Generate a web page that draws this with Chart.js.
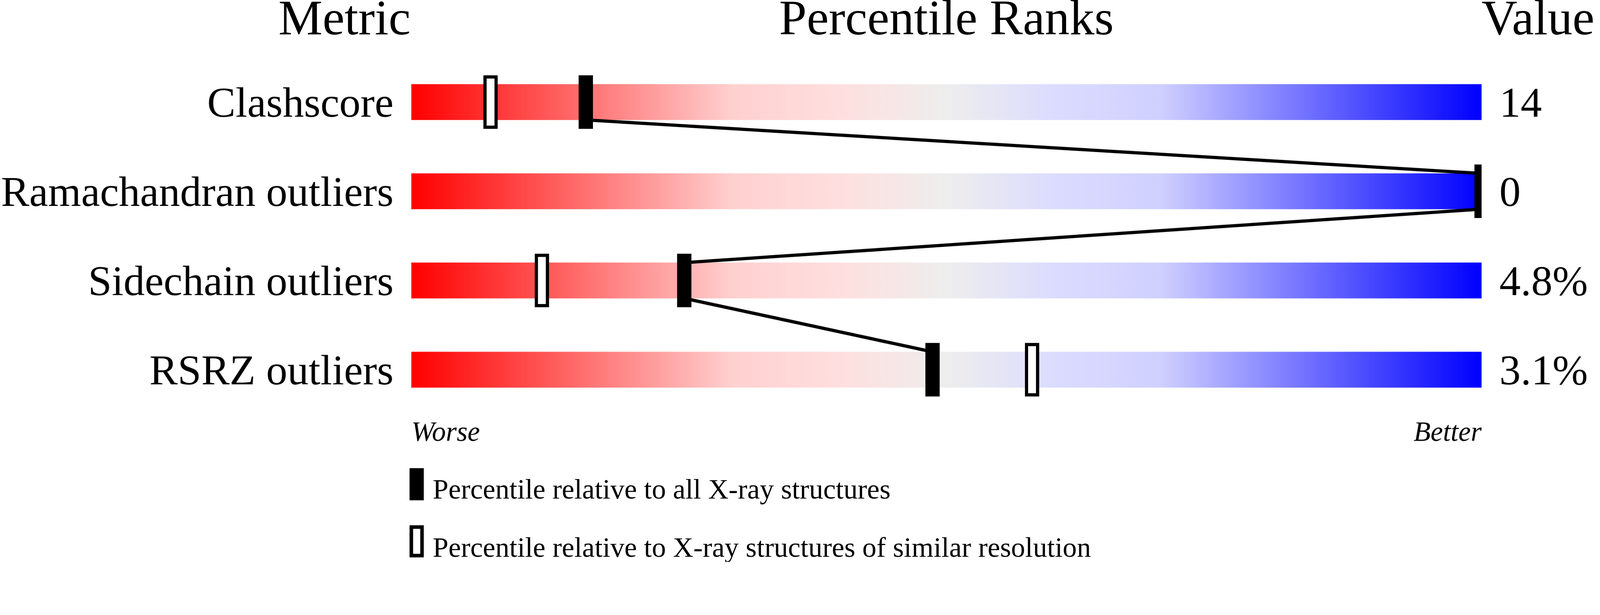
<!DOCTYPE html>
<html>
<head>
<meta charset="utf-8">
<title>Percentile Ranks</title>
<script src="https://cdn.jsdelivr.net/npm/chart.js@4.4.1/dist/chart.umd.min.js"></script>
<style>
  html, body { margin:0; padding:0; background:#fff; overflow:hidden; }
  #wrap { position:absolute; left:0; top:0; width:4485px; height:1574px; overflow:hidden; transform-origin:0 0; }
  #slider { position:absolute; left:0; top:0; width:4485px; height:1574px; }
  .txt { position:absolute; font-family:"Liberation Serif","Times New Roman",serif; color:#000; line-height:1; white-space:nowrap; }
  .key { position:absolute; box-sizing:border-box; width:40px; height:90px; background:#000; }
  .key.open { background:#fff; border:10px solid #000; }
</style>
</head>
<body>
<div id="wrap"><canvas id="slider" width="4485" height="1574"></canvas></div>
<script>
// Validation slider: percentile ranks per metric
const metrics = ['Clashscore', 'Ramachandran outliers', 'Sidechain outliers', 'RSRZ outliers'];
const values = ['14', '0', '4.8%', '3.1%'];
const pctAll = [16.3, 100, 25.5, 48.7];      // relative to all X-ray structures
const pctSimilar = [7.4, 100, 12.2, 58.0];   // relative to similar resolution
const ends = ['Worse', 'Better'];
const headers = ['Metric', 'Percentile Ranks', 'Value'];
const legendLabels = ['Percentile relative to all X-ray structures', 'Percentile relative to X-ray structures of similar resolution'];

const W = 4485, H = 1574;
const SERIF = "'Liberation Serif', 'Times New Roman', serif";
const AREA = { left:1153, right:4153, top:36, bottom:1161 };
const HALF = 0.2; // half bar thickness, in rows (50px of 250px)

// fit the fixed-size drawing to whatever css viewport we get
const wrap = document.getElementById('wrap');
const fit = Math.min(window.innerWidth / W, window.innerHeight / H);
wrap.style.transform = 'scale(' + fit + ')';

function markerImage(w, h, border){
  const c = document.createElement('canvas'); c.width = w; c.height = h;
  const g = c.getContext('2d');
  g.fillStyle = '#000'; g.fillRect(0, 0, w, h);
  if (border){ g.fillStyle = '#fff'; g.fillRect(border, border, w - 2*border, h - 2*border); }
  return c;
}
const solidMark = markerImage(40, 150, 0);
const openMark = markerImage(40, 150, 9);

function sliderFill(ctx){
  const chart = ctx.chart;
  if (!chart.chartArea) return '#eeeeee';
  const x = chart.scales.x;
  const g = chart.ctx.createLinearGradient(x.getPixelForValue(0), 0, x.getPixelForValue(100), 0);
  g.addColorStop(0, '#ff0000');
  g.addColorStop(0.3, '#ffd0d0');
  g.addColorStop(0.4, '#ffdfdf');
  g.addColorStop(0.5, '#eeeeee');
  g.addColorStop(0.6, '#dcdcff');
  g.addColorStop(0.7, '#d0d0ff');
  g.addColorStop(1, '#0000ff');
  return g;
}

// connector runs from the bottom of one marker to the top of the next
const connector = [];
pctAll.forEach((p, i)=>{
  if (i > 0) connector.push({ x:p, y:i - HALF });
  if (i < pctAll.length - 1) connector.push({ x:p, y:i + HALF });
});

const noGrid = { display:false, drawTicks:false };
// pin each axis box to its size and drop the label overflow padding
function pin(size){
  return (s)=>{
    if (s.isHorizontal()) s.height = size; else s.width = size;
    s.paddingTop = s.paddingBottom = s.paddingLeft = s.paddingRight = 0;
  };
}

new Chart(document.getElementById('slider'), {
  type: 'bar',
  data: {
    datasets: [
      { label:'range', data: metrics.map((m,i)=> ({ x:[0,100], y:i })), backgroundColor: sliderFill,
        barThickness: 100, borderWidth: 0, order: 5 },
      { type:'scatter', label:'link', data: connector, showLine:true, borderColor:'#000', borderWidth:9,
        borderJoinStyle:'bevel', pointRadius:0, order: 4 },
      { type:'scatter', label:'similar', data: pctSimilar.map((p,i)=> ({ x:p, y:i })), pointStyle: openMark, order: 3 },
      { type:'scatter', label:'all', data: pctAll.map((p,i)=> ({ x:p, y:i })), pointStyle: solidMark, order: 2 }
    ]
  },
  options: {
    indexAxis: 'y',
    responsive: false,
    animation: false,
    layout: { padding: { top: AREA.top, left:0, right:0, bottom:0 } },
    plugins: { legend:{ display:false }, tooltip:{ enabled:false } },
    scales: {
      x: {
        type:'linear', min:0, max:100, position:'bottom', offset:false, grid:noGrid, border:{ display:false },
        afterBuildTicks(s){ s.ticks = [{ value:0 }, { value:100 }]; },
        afterFit: pin(H - AREA.bottom),
        ticks: { align:'inner', padding:7, autoSkip:false, maxRotation:0, color:'#000',
          font:{ family:SERIF, size:78, style:'italic' },
          callback:(v)=> v === 0 ? ends[0] : (v === 100 ? ends[1] : '') }
      },
      y: {
        type:'linear', min:-1, max:3.5, reverse:true, position:'left', offset:false, grid:noGrid, border:{ display:false },
        afterBuildTicks(s){ s.ticks = metrics.map((m,i)=> ({ value:i })); },
        afterFit: pin(AREA.left),
        ticks: { padding:50, labelOffset:10, autoSkip:false, color:'#000', font:{ family:SERIF, size:119 },
          callback:(v)=> metrics[v] }
      },
      y2: {
        type:'linear', min:-1, max:3.5, reverse:true, position:'right', offset:false, grid:noGrid, border:{ display:false },
        afterBuildTicks(s){ s.ticks = values.map((m,i)=> ({ value:i })); },
        afterFit: pin(W - AREA.right),
        ticks: { padding:50, labelOffset:10, autoSkip:false, color:'#000', font:{ family:SERIF, size:119 },
          callback:(v)=> values[v] }
      }
    }
  }
});

// headers and key as page text
function addText(str, x, baseline, size, align){
  const d = document.createElement('div');
  d.className = 'txt'; d.textContent = str;
  d.style.fontSize = size + 'px';
  d.style.top = (baseline - 0.8375*size) + 'px';
  if (align === 'right') d.style.right = (W - x) + 'px';
  else if (align === 'center'){ d.style.left = x + 'px'; d.style.transform = 'translateX(-50%)'; }
  else d.style.left = x + 'px';
  wrap.appendChild(d);
}
addText(headers[0], 1151, 96, 139, 'right');
addText(headers[1], (AREA.left + AREA.right)/2, 96, 139, 'center');
addText(headers[2], AREA.right, 96, 139, 'left');

[1312, 1472].forEach((top, i)=>{
  const k = document.createElement('div');
  k.className = i === 0 ? 'key' : 'key open';
  k.style.left = '1148px'; k.style.top = top + 'px';
  wrap.appendChild(k);
  addText(legendLabels[i], 1213, [1397, 1560][i], 79, 'left');
});
</script>
</body>
</html>
